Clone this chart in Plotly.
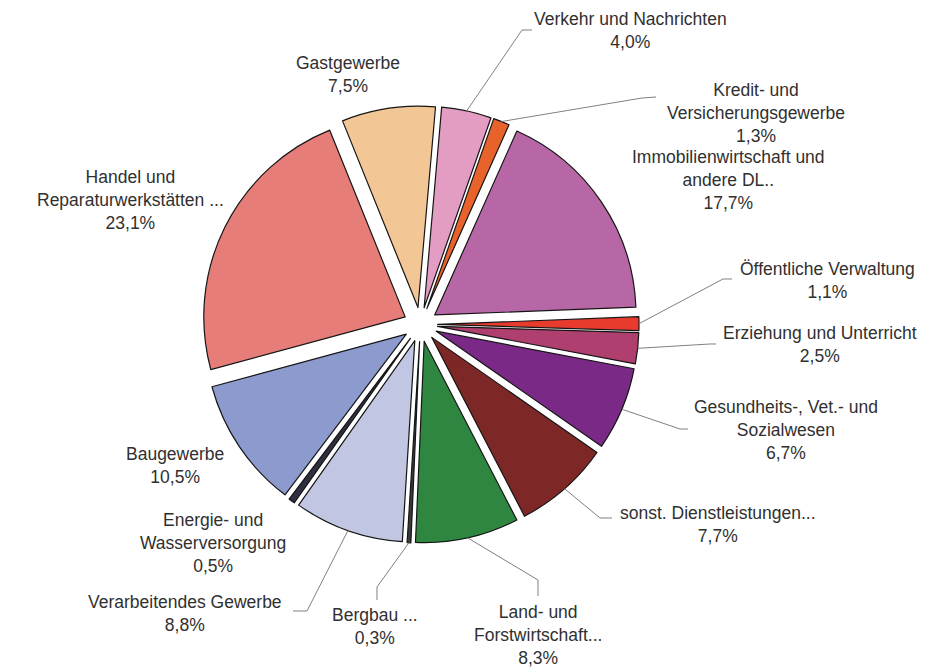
import math
import plotly.graph_objects as go

W, H = 931, 670

# ---- data ----
categories = [
    "Verkehr und Nachrichten",
    "Kredit- und Versicherungsgewerbe",
    "Immobilienwirtschaft und andere DL..",
    "Öffentliche Verwaltung",
    "Erziehung und Unterricht",
    "Gesundheits-, Vet.- und Sozialwesen",
    "sonst. Dienstleistungen...",
    "Land- und Forstwirtschaft...",
    "Bergbau ...",
    "Verarbeitendes Gewerbe",
    "Energie- und Wasserversorgung",
    "Baugewerbe",
    "Handel und Reparaturwerkstätten ...",
    "Gastgewerbe",
]
values = [4.0, 1.3, 17.7, 1.1, 2.5, 6.7, 7.7, 8.3, 0.3, 8.8, 0.5, 10.5, 23.1, 7.5]
label_lines = [
    "Verkehr und Nachrichten",
    "Kredit- und<br>Versicherungsgewerbe",
    "Immobilienwirtschaft und<br>andere DL..",
    "Öffentliche Verwaltung",
    "Erziehung und Unterricht",
    "Gesundheits-, Vet.- und<br>Sozialwesen",
    "sonst. Dienstleistungen...",
    "Land- und<br>Forstwirtschaft...",
    "Bergbau ...",
    "Verarbeitendes Gewerbe",
    "Energie- und<br>Wasserversorgung",
    "Baugewerbe",
    "Handel und<br>Reparaturwerkstätten ...",
    "Gastgewerbe",
]

# ---- style ----
colors = ["#E39DC3", "#E8632B", "#B766A6", "#E83B2E", "#AE3F6E", "#7A2A86",
          "#7E2727", "#2E8640", "#3a3a3a", "#C1C7E3", "#2f2f3f", "#8D9ACD",
          "#E77D79", "#F3C795"]
rotation = 5
pull = 0.085
# pie box in pixels
cx_px, cy_px = 420.5, 324.5
box = 437
r_px = box / (2 + 2 * pull)
dom_x = [(cx_px - box / 2) / W, (cx_px + box / 2) / W]
dom_y = [1 - (cy_px + box / 2) / H, 1 - (cy_px - box / 2) / H]

# label centres (pixels) and leader-line elbows/ends (pixels), None = no line
label_pos = [(630, 30), (756, 113), (728, 180), (827, 281), (820, 344), (786, 430),
             (718, 524), (538, 635), (375, 626), (185, 613), (213, 543), (175, 465),
             (130, 200), (348, 74)]
leaders = [
    [(522, 30), (532, 30)],
    [(642, 98), (656, 97)],
    None,
    [(723, 279), (732, 279)],
    [(710, 344), (716, 344)],
    [(680, 429), (688, 429)],
    [(600, 518), (612, 518)],
    [(538, 580), (538, 596)],
    [(377, 587), (377, 600)],
    [(307, 611), (293, 611)],
    None, None, None, None,
]

fig = go.Figure(go.Pie(
    labels=categories, values=values, sort=False, direction="clockwise",
    rotation=rotation, pull=pull, textinfo="none", hoverinfo="label+percent",
    marker=dict(colors=colors, line=dict(color="#151515", width=1.2)),
    domain=dict(x=dom_x, y=dom_y), showlegend=False,
))

def px2paper(x, y):
    return x / W, 1 - y / H

total = sum(values)
cum = 0.0
annotations = []
shapes = []
for i, v in enumerate(values):
    mid = rotation + (cum + v / 2) / total * 360
    cum += v
    a = math.radians(mid)
    sx = cx_px + r_px * (1 + pull) * math.sin(a)
    sy = cy_px - r_px * (1 + pull) * math.cos(a)
    lx, ly = label_pos[i]
    pct = f"{v:.1f}".replace(".", ",") + "%"
    ax, ay = px2paper(lx, ly)
    annotations.append(dict(
        x=ax, y=ay, xref="paper", yref="paper", showarrow=False,
        text=label_lines[i] + "<br>" + pct, align="center",
        xanchor="center", yanchor="middle",
        font=dict(family="Liberation Sans, Arial, sans-serif", size=17.5, color="#303030"),
    ))
    if leaders[i]:
        pts = [(sx, sy)] + leaders[i]
        path = "M " + " L ".join(f"{px2paper(x, y)[0]:.5f},{px2paper(x, y)[1]:.5f}" for x, y in pts)
        shapes.append(dict(type="path", xref="paper", yref="paper", path=path,
                           line=dict(color="#808080", width=1)))

fig.update_layout(
    width=W, height=H, margin=dict(l=0, r=0, t=0, b=0),
    paper_bgcolor="white", plot_bgcolor="white",
    annotations=annotations, shapes=shapes,
)
fig.write_html("out.html")
